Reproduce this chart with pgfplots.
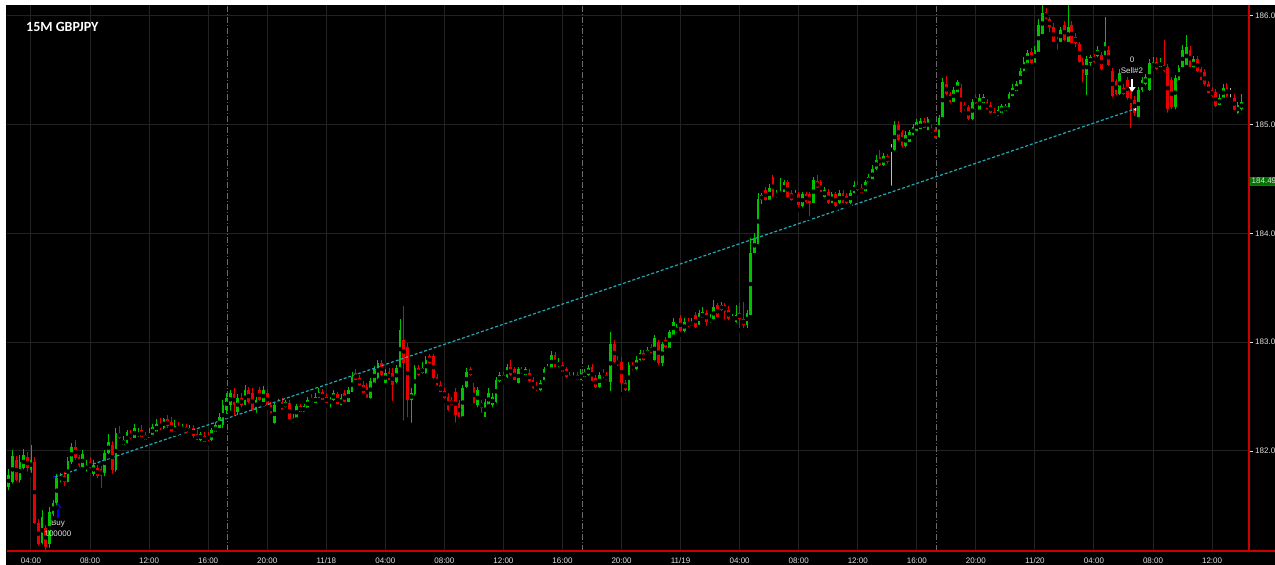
\documentclass[border=0pt]{standalone}
\usepackage{pgfplots}
\pgfplotsset{compat=1.18}
\usepackage{pgfplotstable}
\usepackage{fontspec}
\setmainfont{Liberation Sans}
\newfontfamily\titlefont{Carlito}
\usetikzlibrary{arrows.meta}

\definecolor{cgreen}{RGB}{0,195,0}
\definecolor{cred}{RGB}{230,0,0}
\definecolor{cgray}{RGB}{190,190,190}
\definecolor{gridc}{RGB}{34,34,34}
\definecolor{sessc}{RGB}{105,105,105}
\definecolor{axred}{RGB}{205,0,0}
\definecolor{lbl}{RGB}{225,225,225}
\definecolor{tline}{RGB}{30,170,180}
\definecolor{pbox}{RGB}{0,115,0}

% 15 minute candles, i = bar number, o h l c = open high low close
\pgfplotstableread{
i o h l c
0 181.67 181.83 181.62 181.78
1 181.71 182.01 181.68 181.95
2 181.92 181.95 181.70 181.73
3 181.73 181.96 181.69 181.90
4 181.84 182.02 181.81 181.96
5 181.94 181.99 181.79 181.84
6 181.83 182.05 181.78 181.92
7 181.90 181.94 181.31 181.34
8 181.34 181.37 181.11 181.14
9 181.15 181.46 181.12 181.39
10 181.29 181.32 181.07 181.12
11 181.14 181.48 181.09 181.44
12 181.42 181.55 181.38 181.52
13 181.52 181.79 181.48 181.75
14 181.73 181.80 181.69 181.77
15 181.77 181.81 181.66 181.71
16 181.71 181.94 181.69 181.91
17 181.90 182.07 181.86 182.04
18 182.04 182.10 181.90 181.94
19 181.94 181.96 181.83 181.87
20 181.85 182.01 181.83 181.97
21 181.83 181.92 181.79 181.87
22 181.90 181.94 181.82 181.84
23 181.79 181.92 181.75 181.87
24 181.84 181.87 181.73 181.77
25 181.83 181.86 181.64 181.77
26 181.80 182.01 181.75 181.98
27 181.98 182.16 181.95 182.08
28 182.06 182.09 181.77 181.83
29 181.83 182.21 181.79 182.17
30 182.17 182.23 182.09 182.12
31 182.06 182.14 182.04 182.10
32 182.07 182.19 182.05 182.17
33 182.16 182.19 182.09 182.12
34 182.12 182.25 182.10 182.21
35 182.14 182.21 182.11 182.17
36 182.19 182.24 182.11 182.13
37 182.15 182.17 182.08 182.10
38 182.12 182.21 182.10 182.17
39 182.15 182.25 182.13 182.22
40 182.17 182.29 182.16 182.25
41 182.25 182.30 182.17 182.21
42 182.21 182.30 182.18 182.29
43 182.29 182.33 182.19 182.23
44 182.27 182.31 182.16 182.17
45 182.17 182.28 182.16 182.23
46 182.23 182.27 182.17 182.19
47 182.19 182.25 182.17 182.22
48 182.22 182.25 182.14 182.17
49 182.17 182.24 182.15 182.21
50 182.21 182.24 182.10 182.14
51 182.16 182.19 182.08 182.10
52 182.10 182.17 182.07 182.16
53 182.14 182.17 182.06 182.08
54 182.14 182.17 182.07 182.10
55 182.10 182.21 182.07 182.19
56 182.17 182.27 182.16 182.24
57 182.21 182.35 182.19 182.31
58 182.24 182.47 182.19 182.42
59 182.38 182.53 182.32 182.49
60 182.42 182.56 182.35 182.53
61 182.52 182.58 182.30 182.42
62 182.36 182.52 182.31 182.49
63 182.49 182.53 182.38 182.42
64 182.42 182.61 182.40 182.56
65 182.56 182.59 182.42 182.45
66 182.53 182.58 182.35 182.38
67 182.38 182.50 182.33 182.47
68 182.56 182.59 182.44 182.47
69 182.45 182.60 182.43 182.56
70 182.53 182.57 182.40 182.42
71 182.42 182.45 182.33 182.35
72 182.26 182.45 182.23 182.42
73 182.42 182.48 182.40 182.45
74 182.45 182.49 182.36 182.38
75 182.40 182.47 182.38 182.45
76 182.44 182.47 182.27 182.29
77 182.26 182.34 182.24 182.30
78 182.30 182.43 182.29 182.41
79 182.41 182.43 182.34 182.36
80 182.36 182.43 182.34 182.41
81 182.40 182.50 182.38 182.47
82 182.49 182.52 182.43 182.45
83 182.44 182.53 182.42 182.50
84 182.49 182.58 182.47 182.54
85 182.54 182.57 182.45 182.47
86 182.50 182.53 182.42 182.44
87 182.44 182.50 182.38 182.47
88 182.47 182.56 182.44 182.53
89 182.52 182.54 182.41 182.42
90 182.42 182.52 182.40 182.49
91 182.53 182.56 182.43 182.45
92 182.45 182.59 182.43 182.56
93 182.54 182.73 182.52 182.68
94 182.72 182.75 182.63 182.65
95 182.67 182.70 182.58 182.61
96 182.61 182.64 182.51 182.53
97 182.59 182.62 182.47 182.49
98 182.49 182.67 182.46 182.64
99 182.63 182.78 182.61 182.75
100 182.67 182.84 182.64 182.81
101 182.81 182.84 182.67 182.70
102 182.63 182.75 182.60 182.72
103 182.73 182.76 182.63 182.65
104 182.72 182.76 182.44 182.61
105 182.63 182.79 182.60 182.76
106 182.76 183.21 182.75 183.11
107 183.02 183.33 182.26 182.81
108 182.96 182.99 182.29 182.47
109 182.47 182.58 182.24 182.53
110 182.52 182.79 182.49 182.76
111 182.76 182.79 182.67 182.70
112 182.72 182.82 182.69 182.76
113 182.72 182.87 182.69 182.84
114 182.87 182.89 182.78 182.81
115 182.87 182.89 182.64 182.67
116 182.68 182.71 182.58 182.61
117 182.61 182.64 182.52 182.54
118 182.55 182.58 182.46 182.49
119 182.50 182.53 182.35 182.38
120 182.47 182.50 182.40 182.42
121 182.54 182.58 182.24 182.33
122 182.44 182.47 182.29 182.31
123 182.31 182.61 182.30 182.58
124 182.59 182.76 182.56 182.73
125 182.75 182.77 182.67 182.70
126 182.59 182.62 182.42 182.44
127 182.42 182.59 182.38 182.56
128 182.44 182.47 182.33 182.40
129 182.31 182.48 182.29 182.45
130 182.42 182.58 182.41 182.53
131 182.42 182.53 182.38 182.50
132 182.45 182.68 182.42 182.65
133 182.64 182.73 182.61 182.70
134 182.70 182.73 182.63 182.65
135 182.68 182.80 182.65 182.77
136 182.77 182.84 182.67 182.70
137 182.75 182.77 182.63 182.65
138 182.63 182.77 182.60 182.75
139 182.75 182.77 182.69 182.72
140 182.70 182.77 182.68 182.75
141 182.72 182.75 182.61 182.64
142 182.65 182.68 182.55 182.58
143 182.60 182.63 182.53 182.56
144 182.56 182.65 182.53 182.63
145 182.65 182.77 182.63 182.75
146 182.75 182.80 182.73 182.77
147 182.76 182.92 182.75 182.88
148 182.88 182.91 182.75 182.76
149 182.78 182.85 182.75 182.82
150 182.79 182.82 182.71 182.73
151 182.75 182.77 182.65 182.68
152 182.70 182.73 182.63 182.65
153 182.66 182.73 182.64 182.69
154 182.70 182.73 182.63 182.65
155 182.65 182.75 182.63 182.72
156 182.68 182.75 182.66 182.73
157 182.70 182.79 182.67 182.76
158 182.77 182.80 182.62 182.64
159 182.67 182.70 182.56 182.59
160 182.59 182.73 182.56 182.70
161 182.72 182.75 182.65 182.68
162 182.70 182.73 182.63 182.65
163 182.63 183.09 182.53 182.98
164 182.98 183.02 182.79 182.82
165 182.84 182.87 182.76 182.79
166 182.82 182.86 182.52 182.63
167 182.63 182.65 182.53 182.56
168 182.56 182.82 182.53 182.79
169 182.79 182.82 182.72 182.75
170 182.75 182.87 182.72 182.84
171 182.84 182.93 182.81 182.90
172 182.90 182.93 182.81 182.84
173 182.88 182.96 182.87 182.93
174 182.96 182.98 182.88 182.90
175 182.84 183.07 182.81 183.04
176 183.00 183.02 182.77 182.81
177 182.81 183.00 182.76 182.98
178 183.02 183.05 182.93 182.96
179 182.95 183.11 182.93 183.09
180 183.07 183.22 183.05 183.19
181 183.09 183.17 183.07 183.14
182 183.22 183.25 183.07 183.10
183 183.10 183.22 183.07 183.19
184 183.19 183.22 183.12 183.15
185 183.15 183.22 183.13 183.19
186 183.25 183.28 183.11 183.14
187 183.16 183.30 183.14 183.27
188 183.22 183.32 183.21 183.28
189 183.27 183.30 183.13 183.19
190 183.19 183.26 183.16 183.22
191 183.21 183.39 183.19 183.32
192 183.34 183.36 183.21 183.23
193 183.30 183.37 183.27 183.34
194 183.34 183.36 183.19 183.28
195 183.30 183.33 183.18 183.21
196 183.21 183.26 183.19 183.23
197 183.19 183.34 183.16 183.25
198 183.27 183.36 183.11 183.21
199 183.21 183.37 183.11 183.16
200 183.16 183.30 183.11 183.27
201 183.25 183.96 183.23 183.82
202 183.82 184.00 183.80 183.96
203 183.90 184.37 183.88 184.32
204 184.31 184.37 184.25 184.35
205 184.40 184.43 184.28 184.31
206 184.31 184.45 184.29 184.42
207 184.52 184.54 184.31 184.34
208 184.34 184.40 184.31 184.37
209 184.36 184.51 184.34 184.38
210 184.38 184.49 184.36 184.47
211 184.47 184.49 184.31 184.34
212 184.37 184.40 184.28 184.31
213 184.34 184.40 184.32 184.37
214 184.36 184.38 184.22 184.26
215 184.25 184.38 184.22 184.36
216 184.36 184.38 184.26 184.29
217 184.36 184.38 184.14 184.28
218 184.28 184.52 184.26 184.49
219 184.48 184.54 184.40 184.42
220 184.47 184.49 184.36 184.37
221 184.34 184.43 184.31 184.40
222 184.38 184.41 184.25 184.28
223 184.28 184.38 184.26 184.36
224 184.36 184.38 184.22 184.25
225 184.28 184.40 184.25 184.37
226 184.37 184.40 184.26 184.28
227 184.34 184.37 184.25 184.28
228 184.28 184.40 184.25 184.37
229 184.37 184.48 184.35 184.45
230 184.45 184.48 184.37 184.40
231 184.42 184.45 184.35 184.37
232 184.38 184.49 184.37 184.47
233 184.47 184.55 184.45 184.52
234 184.49 184.63 184.48 184.59
235 184.59 184.72 184.56 184.68
236 184.70 184.77 184.60 184.63
237 184.63 184.74 184.60 184.71
238 184.71 184.73 184.62 184.66
239 184.77 184.82 184.42 184.77
240 184.77 185.03 184.74 185.00
241 185.00 185.03 184.83 184.86
242 184.93 184.95 184.77 184.80
243 184.80 184.94 184.77 184.91
244 184.84 184.95 184.82 184.93
245 184.91 185.01 184.88 184.98
246 184.94 185.05 184.92 185.02
247 184.95 185.06 184.94 185.03
248 185.03 185.06 184.95 184.97
249 184.95 185.07 184.93 185.05
250 184.97 185.00 184.90 184.93
251 184.95 184.98 184.85 184.88
252 184.89 185.09 184.86 185.06
253 185.06 185.43 185.05 185.39
254 185.37 185.45 185.25 185.28
255 185.28 185.30 185.18 185.21
256 185.21 185.35 185.19 185.32
257 185.29 185.41 185.28 185.39
258 185.34 185.37 185.09 185.12
259 185.18 185.21 185.11 185.14
260 185.16 185.18 185.02 185.05
261 185.05 185.24 185.02 185.21
262 185.25 185.28 185.17 185.20
263 185.14 185.28 185.12 185.25
264 185.20 185.28 185.18 185.25
265 185.21 185.24 185.12 185.14
266 185.18 185.21 185.08 185.11
267 185.12 185.15 185.05 185.06
268 185.07 185.17 185.06 185.14
269 185.11 185.19 185.09 185.17
270 185.13 185.19 185.11 185.17
271 185.16 185.30 185.14 185.28
272 185.26 185.37 185.24 185.34
273 185.30 185.40 185.29 185.37
274 185.37 185.52 185.35 185.49
275 185.49 185.62 185.47 185.58
276 185.57 185.69 185.55 185.66
277 185.67 185.70 185.54 185.57
278 185.57 185.72 185.55 185.69
279 185.67 185.97 185.65 185.92
280 185.83 186.10 185.81 186.03
281 186.04 186.07 185.95 185.97
282 185.97 185.99 185.83 185.90
283 185.90 185.93 185.74 185.76
284 185.78 185.81 185.67 185.75
285 185.76 185.90 185.74 185.87
286 185.92 185.95 185.75 185.78
287 185.76 186.10 185.74 185.90
288 185.92 185.95 185.73 185.75
289 185.81 185.84 185.69 185.75
290 185.74 185.76 185.55 185.58
291 185.58 185.61 185.37 185.48
292 185.46 185.63 185.25 185.60
293 185.57 185.64 185.52 185.62
294 185.63 185.65 185.55 185.58
295 185.63 185.72 185.60 185.69
296 185.64 185.67 185.48 185.51
297 185.64 185.99 185.62 185.76
298 185.69 185.72 185.52 185.55
299 185.49 185.52 185.23 185.26
300 185.40 185.42 185.25 185.28
301 185.28 185.51 185.25 185.48
302 185.34 185.37 185.25 185.28
303 185.41 185.44 185.21 185.25
304 185.30 185.33 184.95 185.14
305 185.23 185.26 185.06 185.11
306 185.06 185.35 185.05 185.32
307 185.32 185.44 185.28 185.41
308 185.37 185.47 185.34 185.44
309 185.32 185.60 185.29 185.57
310 185.52 185.62 185.51 185.58
311 185.58 185.62 185.48 185.51
312 185.53 185.61 185.51 185.58
313 185.55 185.78 185.46 185.49
314 185.53 185.56 185.09 185.14
315 185.41 185.44 185.12 185.16
316 185.16 185.46 185.12 185.43
317 185.41 185.55 185.39 185.52
318 185.52 185.73 185.51 185.69
319 185.55 185.82 185.53 185.71
320 185.69 185.72 185.51 185.53
321 185.52 185.63 185.51 185.60
322 185.60 185.63 185.46 185.49
323 185.51 185.53 185.39 185.41
324 185.48 185.51 185.34 185.37
325 185.37 185.40 185.27 185.29
326 185.32 185.35 185.23 185.26
327 185.30 185.33 185.14 185.17
328 185.18 185.28 185.16 185.25
329 185.25 185.37 185.23 185.34
330 185.35 185.38 185.23 185.26
331 185.30 185.34 185.23 185.30
332 185.25 185.28 185.11 185.14
333 185.11 185.21 185.08 185.18
334 185.14 185.28 185.11 185.21
}\candles

\begin{document}
\begin{tikzpicture}[x=1pt,y=1pt]
\path[use as bounding box, clip] (0,0) rectangle (1275,565);
\fill[black] (0,0) rectangle (1275,565);

\begin{axis}[
    at={(7pt,14pt)}, anchor=south west,
    scale only axis, width=1242pt, height=546pt,
    xmin=-0.5, xmax=336, ymin=181.08, ymax=186.10,
    axis background/.style={fill=black},
    axis line style={draw=none},
    clip=false,
    xtick={6,22,...,326},
    xticklabels={04:00,08:00,12:00,16:00,20:00,11/18,04:00,08:00,12:00,16:00,20:00,11/19,04:00,08:00,12:00,16:00,20:00,11/20,04:00,08:00,12:00},
    ytick={182,183,184,185,186},
    yticklabels={182.00,183.00,184.00,185.00,186.00},
    ytick pos=right, yticklabel pos=right,
    xmajorgrids, ymajorgrids,
    major grid style={draw=gridc, line width=1pt},
    xtick style={draw=none},
    ytick style={draw=lbl, line width=0.8pt},
    tick align=outside, major tick length=4pt,
    tick label style={font=\fontsize{8}{9}\selectfont, text=lbl},
    xticklabel style={anchor=north, inner sep=0pt, yshift=-2.5pt},
    yticklabel style={anchor=west, inner sep=0pt, xshift=2pt},
    extra x ticks={59.3,155.3,251.3},
    extra x tick labels={},
    extra x tick style={major grid style={draw=sessc, line width=0.8pt, dash pattern=on 6pt off 2pt on 1pt off 2pt}, xtick style={draw=none}},
]
% wicks
\addplot[forget plot, only marks, mark=none, error bars/.cd, y dir=plus, y explicit, error mark=none,
    error bar style={draw=cgreen, line width=0.9pt}]
    table[x=i, y expr={\thisrow{c}>\thisrow{o} ? \thisrow{l} : nan}, y error plus expr={\thisrow{h}-\thisrow{l}}] {\candles};
\addplot[forget plot, only marks, mark=none, error bars/.cd, y dir=plus, y explicit, error mark=none,
    error bar style={draw=cred, line width=0.9pt}]
    table[x=i, y expr={\thisrow{c}<\thisrow{o} ? \thisrow{l} : nan}, y error plus expr={\thisrow{h}-\thisrow{l}}] {\candles};
\addplot[forget plot, only marks, mark=none, error bars/.cd, y dir=plus, y explicit, error mark=none,
    error bar style={draw=cgray, line width=0.9pt}]
    table[x=i, y expr={\thisrow{c}==\thisrow{o} ? \thisrow{l} : nan}, y error plus expr={\thisrow{h}-\thisrow{l}}] {\candles};
% bodies
\addplot[forget plot, only marks, mark=none, error bars/.cd, y dir=both, y explicit, error mark=none,
    error bar style={draw=cgreen, line width=2.7pt}]
    table[x=i, y expr={\thisrow{c}>\thisrow{o} ? (\thisrow{o}+\thisrow{c})/2 : nan}, y error expr={abs(\thisrow{c}-\thisrow{o})/2}] {\candles};
\addplot[forget plot, only marks, mark=none, error bars/.cd, y dir=both, y explicit, error mark=none,
    error bar style={draw=cred, line width=2.7pt}]
    table[x=i, y expr={\thisrow{c}<\thisrow{o} ? (\thisrow{o}+\thisrow{c})/2 : nan}, y error expr={abs(\thisrow{c}-\thisrow{o})/2}] {\candles};
\addplot[forget plot, only marks, mark=none, error bars/.cd, y dir=both, y explicit, error mark=none,
    error bar style={draw=cgray, line width=2.7pt}]
    table[x=i, y expr={\thisrow{c}==\thisrow{o} ? \thisrow{c} : nan}, y error expr={0.005}] {\candles};

% trade line and markers
\addplot[tline, line width=1.2pt, dash pattern=on 3pt off 2pt] coordinates {(12.5,181.76) (304.8,185.14)};
\addplot[only marks, mark=triangle*, mark options={fill=blue, draw=blue, rotate=-90, scale=0.7}] coordinates {(12.2,181.76)};
\addplot[only marks, mark=triangle*, mark options={fill=white, draw=white, rotate=90, scale=0.7}] coordinates {(305.2,185.14)};
\addplot[blue, line width=2pt, -{Triangle[length=5pt,width=7pt]}] coordinates {(13.3,181.38) (13.3,181.52)};
\addplot[white, line width=2pt, -{Triangle[length=5pt,width=7pt]}] coordinates {(304.3,185.42) (304.3,185.30)};
\node[text=lbl, font=\fontsize{8}{9}\selectfont, inner sep=0pt] at (axis cs:13.3,181.33) {Buy};
\node[text=lbl, font=\fontsize{8}{9}\selectfont, inner sep=0pt] at (axis cs:13.3,181.24) {100000};
\node[text=lbl, font=\fontsize{8}{9}\selectfont, inner sep=0pt] at (axis cs:304.3,185.50) {Sell\#2};
\node[text=lbl, font=\fontsize{8}{9}\selectfont, inner sep=0pt] at (axis cs:304.3,185.60) {0};
\coordinate (pb) at (axis cs:336,184.48);
\end{axis}

\node[fill=pbox, draw=cgreen!70!black, anchor=west, text=lbl, inner sep=1.5pt,
      font=\fontsize{8}{9}\selectfont] at ([xshift=1pt]pb) {184.49};
\draw[axred, line width=1.5pt] (7,14) -- (1275,14);
\draw[axred, line width=1.5pt] (1249,14) -- (1249,560);
\fill[white] (0,560) rectangle (1275,565);
\fill[white] (0,0) rectangle (6,565);
\node[anchor=base west, text=white, font=\titlefont\bfseries\fontsize{14}{16}\selectfont, inner sep=0pt] at (26,533) {15M GBPJPY};
\end{tikzpicture}
\end{document}
